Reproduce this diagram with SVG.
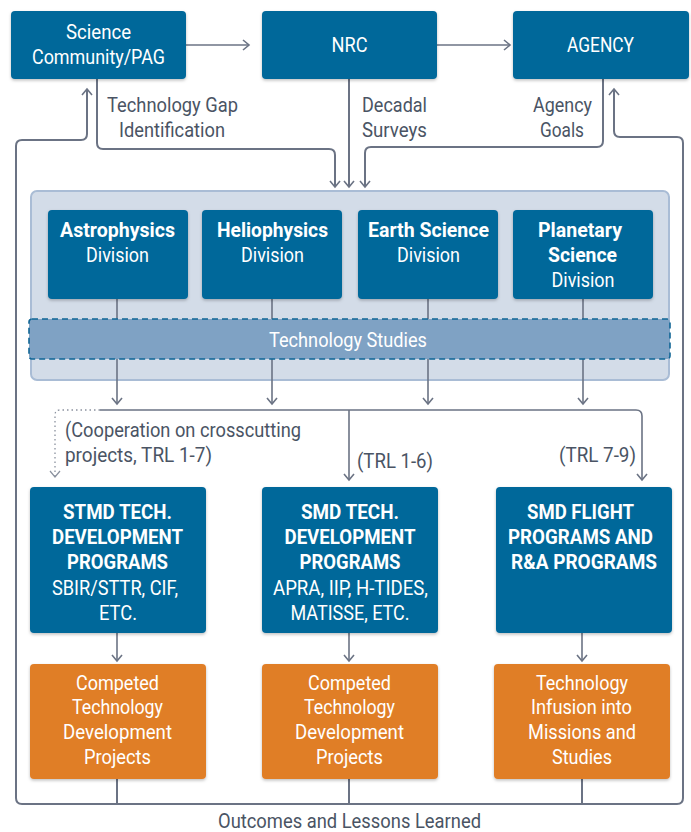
<svg xmlns="http://www.w3.org/2000/svg" width="691" height="832" viewBox="0 0 691 832">
<defs>
<filter id="sh" x="-10%" y="-10%" width="120%" height="130%">
<feDropShadow dx="0" dy="1.5" stdDeviation="1.5" flood-color="#000" flood-opacity="0.25"/>
</filter>
<marker id="ah" viewBox="-8 -6 10 12" markerWidth="10" markerHeight="12" refX="0" refY="0" orient="auto-start-reverse" markerUnits="userSpaceOnUse">
<path d="M-6,-5 L0,0 L-6,5" fill="none" stroke="#6b7384" stroke-width="1.6"/>
</marker>
<marker id="ahd" viewBox="-8 -6 10 12" markerWidth="10" markerHeight="12" refX="0" refY="0" orient="auto" markerUnits="userSpaceOnUse">
<path d="M-6,-5 L0,0 L-6,5" fill="none" stroke="#8a919e" stroke-width="1.2"/>
</marker>
</defs>
<style>
.b{fill:#02679a;filter:url(#sh)}
.o{fill:#e07e27;filter:url(#sh)}
.t{font-family:Roboto,"Liberation Sans",sans-serif;font-size:20px;fill:#fff}
.tb{font-family:Roboto,"Liberation Sans",sans-serif;font-size:20px;font-weight:bold;fill:#fff}
.g{font-family:Roboto,"Liberation Sans",sans-serif;font-size:20px;fill:#4a5464}
.c{fill:none;stroke:#6b7384;stroke-width:2}
.ct{fill:none;stroke:#6b7384;stroke-width:1.6}
</style>
<rect width="691" height="832" fill="#fff"/>

<g id="container">
<rect x="31" y="191" width="638" height="189" rx="6" fill="#d3dce8" stroke="#a9bcd5" stroke-width="2"/>
</g>

<g id="connectors">
<path class="ct" d="M186,45 H249" marker-end="url(#ah)"/>
<path class="ct" d="M437,45 H510" marker-end="url(#ah)"/>
<path class="c" d="M97,79 V143 Q97,149 103,149 H329 Q335,149 335,155 V187" marker-end="url(#ah)"/>
<path class="c" d="M349,79 V187" marker-end="url(#ah)"/>
<path class="c" d="M603,79 V141 Q603,147 597,147 H371 Q365,147 365,153 V187" marker-end="url(#ah)"/>
<path class="c" d="M87,89 V134 Q87,140 81,140 H22 Q16,140 16,146 V798 Q16,804 22,804 H677 Q683,804 683,798 V143 Q683,137 677,137 H620 Q614,137 614,131 V89" marker-start="url(#ah)" marker-end="url(#ah)"/>
<path class="c" d="M117,779 V804 M349,779 V804 M582,779 V804"/>
<path class="ct" d="M117,299 V319 M272,299 V319 M428,299 V319 M583,299 V319"/>
<path class="ct" d="M117,359 V404" marker-end="url(#ah)"/>
<path class="ct" d="M272,359 V404" marker-end="url(#ah)"/>
<path class="ct" d="M428,359 V404" marker-end="url(#ah)"/>
<path class="ct" d="M583,359 V404" marker-end="url(#ah)"/>
<path class="ct" d="M100,410 H636 Q642,410 642,416 V480" marker-end="url(#ah)"/>
<path class="ct" d="M349,410 V480" marker-end="url(#ah)"/>
<path d="M100,410 H60 Q55,410 55,415 V477" fill="none" stroke="#8a919e" stroke-width="1.3" stroke-dasharray="1.5,3" marker-end="url(#ahd)"/>
<path class="ct" d="M117,633 V661" marker-end="url(#ah)"/>
<path class="ct" d="M349,633 V661" marker-end="url(#ah)"/>
<path class="ct" d="M582,633 V661" marker-end="url(#ah)"/>
</g>

<g id="science-community">
<rect class="b" x="11" y="11" width="175" height="68" rx="4"/>
<text class="t" x="98.5" y="39" text-anchor="middle" textLength="65" lengthAdjust="spacingAndGlyphs">Science</text>
<text class="t" x="98.5" y="64" text-anchor="middle" textLength="133" lengthAdjust="spacingAndGlyphs">Community/PAG</text>
</g>
<g id="nrc">
<rect class="b" x="262" y="11" width="175" height="68" rx="4"/>
<text class="t" x="349.5" y="52" text-anchor="middle" textLength="36" lengthAdjust="spacingAndGlyphs">NRC</text>
</g>
<g id="agency">
<rect class="b" x="513" y="11" width="176" height="68" rx="4"/>
<text class="t" x="600.5" y="52" text-anchor="middle" textLength="67" lengthAdjust="spacingAndGlyphs">AGENCY</text>
</g>

<g id="labels-top">
<text class="g" x="107" y="112" textLength="131" lengthAdjust="spacingAndGlyphs">Technology Gap</text>
<text class="g" x="119" y="137" textLength="106" lengthAdjust="spacingAndGlyphs">Identification</text>
<text class="g" x="362" y="112" textLength="65" lengthAdjust="spacingAndGlyphs">Decadal</text>
<text class="g" x="362" y="137" textLength="65" lengthAdjust="spacingAndGlyphs">Surveys</text>
<text class="g" x="562.5" y="112" text-anchor="middle" textLength="59" lengthAdjust="spacingAndGlyphs">Agency</text>
<text class="g" x="562" y="137" text-anchor="middle" textLength="44" lengthAdjust="spacingAndGlyphs">Goals</text>
</g>

<g id="astrophysics">
<rect class="b" x="48" y="210" width="140" height="89" rx="4"/>
<text class="tb" x="117.5" y="237" text-anchor="middle" textLength="115" lengthAdjust="spacingAndGlyphs">Astrophysics</text>
<text class="t" x="117.5" y="262" text-anchor="middle" textLength="63" lengthAdjust="spacingAndGlyphs">Division</text>
</g>
<g id="heliophysics">
<rect class="b" x="202" y="210" width="140" height="89" rx="4"/>
<text class="tb" x="272.5" y="237" text-anchor="middle" textLength="111" lengthAdjust="spacingAndGlyphs">Heliophysics</text>
<text class="t" x="272.5" y="262" text-anchor="middle" textLength="63" lengthAdjust="spacingAndGlyphs">Division</text>
</g>
<g id="earth-science">
<rect class="b" x="358" y="210" width="140" height="89" rx="4"/>
<text class="tb" x="428.5" y="237" text-anchor="middle" textLength="121" lengthAdjust="spacingAndGlyphs">Earth Science</text>
<text class="t" x="428.5" y="262" text-anchor="middle" textLength="63" lengthAdjust="spacingAndGlyphs">Division</text>
</g>
<g id="planetary-science">
<rect class="b" x="513" y="210" width="140" height="89" rx="4"/>
<text class="tb" x="580" y="237" text-anchor="middle" textLength="84" lengthAdjust="spacingAndGlyphs">Planetary</text>
<text class="tb" x="582.5" y="262" text-anchor="middle" textLength="69" lengthAdjust="spacingAndGlyphs">Science</text>
<text class="t" x="583" y="287" text-anchor="middle" textLength="63" lengthAdjust="spacingAndGlyphs">Division</text>
</g>

<g id="technology-studies">
<rect x="29" y="319" width="641" height="40" rx="3" fill="#7fa2c4" stroke="#0f6595" stroke-width="1.6" stroke-dasharray="6,4"/>
<text class="t" x="348" y="347" text-anchor="middle" textLength="158" lengthAdjust="spacingAndGlyphs">Technology Studies</text>
</g>

<g id="labels-mid">
<text class="g" x="65" y="437" textLength="236" lengthAdjust="spacingAndGlyphs">(Cooperation on crosscutting</text>
<text class="g" x="65" y="462" textLength="147" lengthAdjust="spacingAndGlyphs">projects, TRL 1-7)</text>
<text class="g" x="357" y="468" textLength="76" lengthAdjust="spacingAndGlyphs">(TRL 1-6)</text>
<text class="g" x="559" y="462" textLength="77" lengthAdjust="spacingAndGlyphs">(TRL 7-9)</text>
</g>

<g id="stmd">
<rect class="b" x="30" y="487" width="176" height="146" rx="4"/>
<text class="tb" x="117.5" y="519" text-anchor="middle" textLength="109" lengthAdjust="spacingAndGlyphs">STMD TECH.</text>
<text class="tb" x="117.5" y="544" text-anchor="middle" textLength="131" lengthAdjust="spacingAndGlyphs">DEVELOPMENT</text>
<text class="tb" x="117.5" y="569" text-anchor="middle" textLength="101" lengthAdjust="spacingAndGlyphs">PROGRAMS</text>
<text class="t" x="115" y="595" text-anchor="middle" textLength="126" lengthAdjust="spacingAndGlyphs">SBIR/STTR, CIF,</text>
<text class="t" x="118" y="620" text-anchor="middle" textLength="38" lengthAdjust="spacingAndGlyphs">ETC.</text>
</g>
<g id="smd-tech">
<rect class="b" x="262" y="487" width="176" height="146" rx="4"/>
<text class="tb" x="350" y="519" text-anchor="middle" textLength="98" lengthAdjust="spacingAndGlyphs">SMD TECH.</text>
<text class="tb" x="350" y="544" text-anchor="middle" textLength="131" lengthAdjust="spacingAndGlyphs">DEVELOPMENT</text>
<text class="tb" x="350" y="569" text-anchor="middle" textLength="101" lengthAdjust="spacingAndGlyphs">PROGRAMS</text>
<text class="t" x="350.5" y="595" text-anchor="middle" textLength="155" lengthAdjust="spacingAndGlyphs">APRA, IIP, H-TIDES,</text>
<text class="t" x="350" y="620" text-anchor="middle" textLength="119" lengthAdjust="spacingAndGlyphs">MATISSE, ETC.</text>
</g>
<g id="smd-flight">
<rect class="b" x="496" y="487" width="176" height="146" rx="4"/>
<text class="tb" x="580.5" y="519" text-anchor="middle" textLength="107" lengthAdjust="spacingAndGlyphs">SMD FLIGHT</text>
<text class="tb" x="580.5" y="544" text-anchor="middle" textLength="145" lengthAdjust="spacingAndGlyphs">PROGRAMS AND</text>
<text class="tb" x="584" y="569" text-anchor="middle" textLength="146" lengthAdjust="spacingAndGlyphs">R&amp;A PROGRAMS</text>
</g>

<g id="competed-stmd">
<rect class="o" x="30" y="664" width="176" height="115" rx="4"/>
<text class="t" x="117.5" y="690" text-anchor="middle" textLength="83" lengthAdjust="spacingAndGlyphs">Competed</text>
<text class="t" x="117.5" y="714" text-anchor="middle" textLength="91" lengthAdjust="spacingAndGlyphs">Technology</text>
<text class="t" x="117.5" y="739" text-anchor="middle" textLength="109" lengthAdjust="spacingAndGlyphs">Development</text>
<text class="t" x="117.5" y="764" text-anchor="middle" textLength="67" lengthAdjust="spacingAndGlyphs">Projects</text>
</g>
<g id="competed-smd">
<rect class="o" x="262" y="664" width="176" height="115" rx="4"/>
<text class="t" x="349.5" y="690" text-anchor="middle" textLength="83" lengthAdjust="spacingAndGlyphs">Competed</text>
<text class="t" x="349.5" y="714" text-anchor="middle" textLength="91" lengthAdjust="spacingAndGlyphs">Technology</text>
<text class="t" x="349.5" y="739" text-anchor="middle" textLength="109" lengthAdjust="spacingAndGlyphs">Development</text>
<text class="t" x="349.5" y="764" text-anchor="middle" textLength="67" lengthAdjust="spacingAndGlyphs">Projects</text>
</g>
<g id="technology-infusion">
<rect class="o" x="494" y="664" width="176" height="115" rx="4"/>
<text class="t" x="582" y="690" text-anchor="middle" textLength="92" lengthAdjust="spacingAndGlyphs">Technology</text>
<text class="t" x="581.5" y="714" text-anchor="middle" textLength="101" lengthAdjust="spacingAndGlyphs">Infusion into</text>
<text class="t" x="582" y="739" text-anchor="middle" textLength="108" lengthAdjust="spacingAndGlyphs">Missions and</text>
<text class="t" x="582" y="764" text-anchor="middle" textLength="60" lengthAdjust="spacingAndGlyphs">Studies</text>
</g>

<g id="outcomes-label">
<text class="g" x="349.5" y="828" text-anchor="middle" textLength="263" lengthAdjust="spacingAndGlyphs">Outcomes and Lessons Learned</text>
</g>
</svg>
